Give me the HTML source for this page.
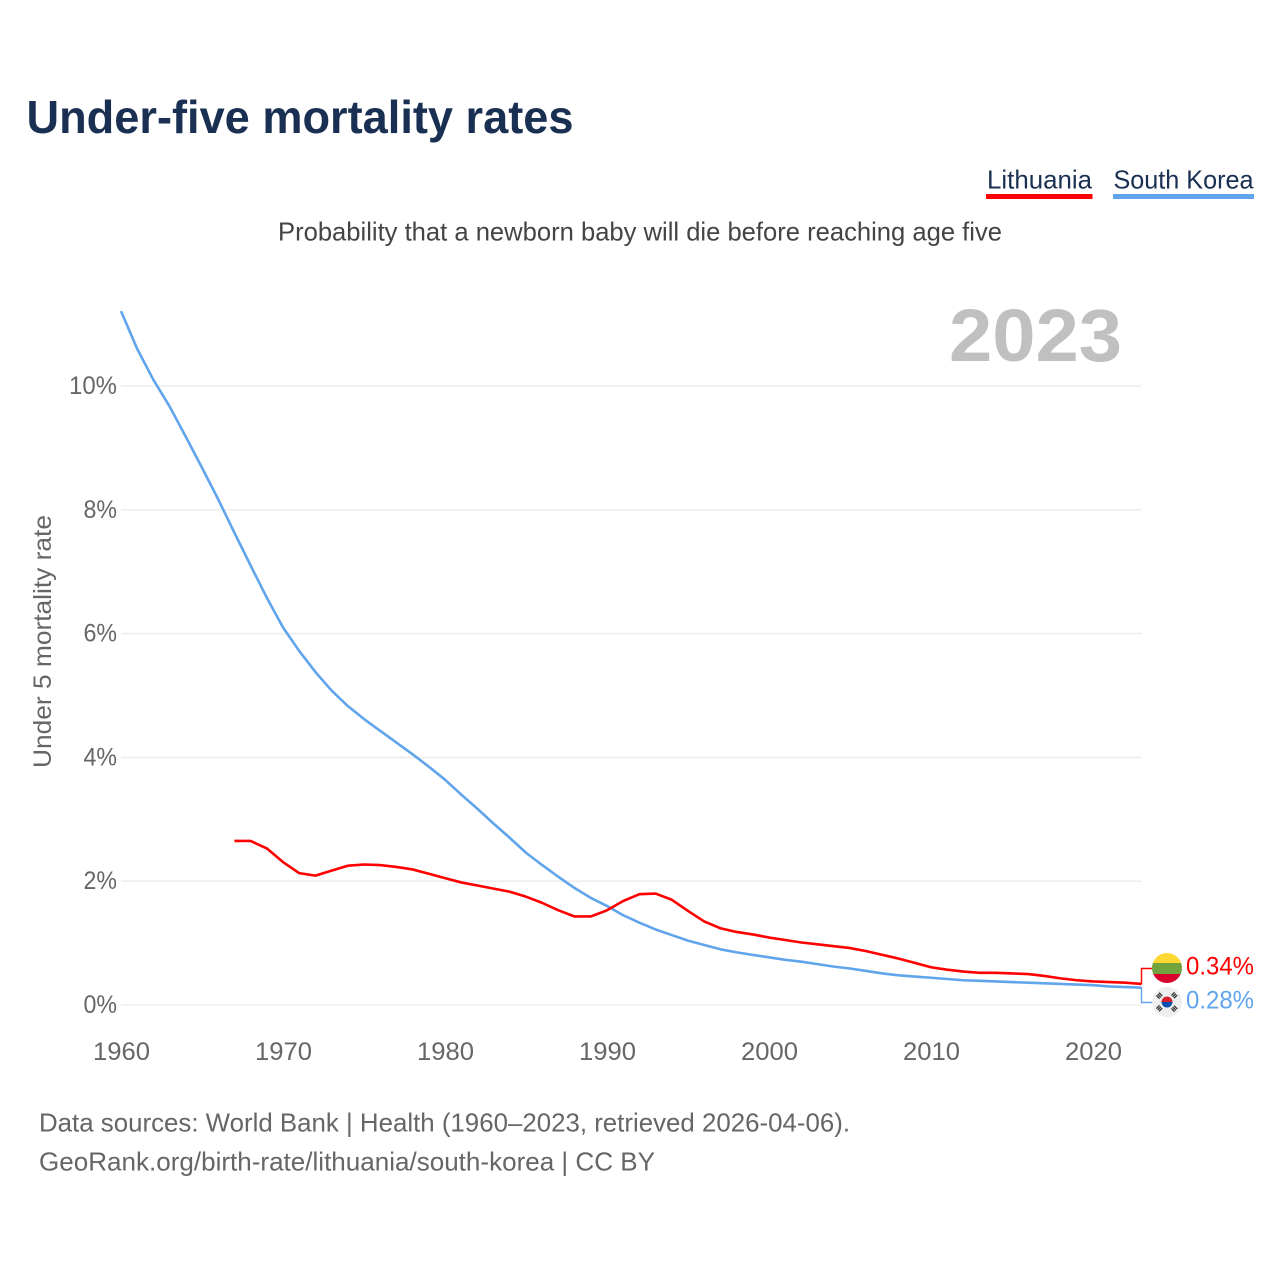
<!DOCTYPE html>
<html lang="en">
<head>
<meta charset="utf-8">
<title>Under-five mortality rates</title>
<style>
html,body{margin:0;padding:0;background:#fff;}
svg{display:block;}
text{font-family:"Liberation Sans",sans-serif;}
</style>
</head>
<body>
<svg id="chart" xmlns="http://www.w3.org/2000/svg" width="1280" height="1280" viewBox="0 0 1280 1280">
  <rect x="0" y="0" width="1280" height="1280" fill="#fff"/>
  <text x="26.500" y="133" font-size="46" font-weight="700" fill="#1a3052" textLength="547" lengthAdjust="spacingAndGlyphs">Under-five mortality rates</text>
  <g>
    <g>
      <text x="987" y="188.500" font-size="26" fill="#1a3052" textLength="105" lengthAdjust="spacingAndGlyphs">Lithuania</text>
      <rect x="986" y="194" width="106.500" height="5" fill="#ff0000"/>
    </g>
    <g>
      <text x="1113.500" y="188.500" font-size="26" fill="#1a3052" textLength="140" lengthAdjust="spacingAndGlyphs">South Korea</text>
      <rect x="1113" y="194" width="141" height="5" fill="#60a5ec"/>
    </g>
  </g>
  <text x="278" y="240.500" font-size="26" fill="#444" textLength="724" lengthAdjust="spacingAndGlyphs">Probability that a newborn baby will die before reaching age five</text>
  <text x="949" y="361" font-size="74" font-weight="700" fill="#c0c0c0" textLength="173" lengthAdjust="spacingAndGlyphs">2023</text>
  <g id="grid"></g>
  <g id="yticks"></g>
  <g id="xticks"></g>
  <text transform="translate(51,768) rotate(-90)" x="0" y="0" font-size="25" fill="#666" textLength="253" lengthAdjust="spacingAndGlyphs">Under 5 mortality rate</text>
  <g id="series"></g>
  <g id="ends"></g>
  <g>
    <clipPath id="ltclip"><circle cx="1167" cy="968" r="15"/></clipPath>
    <g clip-path="url(#ltclip)">
      <rect x="1150" y="953" width="34" height="10" fill="#fdd835"/>
      <rect x="1150" y="963" width="34" height="11" fill="#72a33f"/>
      <rect x="1150" y="974" width="34" height="10" fill="#d8002c"/>
    </g>
  </g>
  <g>
    <circle cx="1167" cy="1002" r="15" fill="#eeeeee"/>
    <path d="M1161.500 1002a5.500 5.500 0 0 1 11 0z" fill="#d8202c"/>
    <path d="M1161.500 1002a5.500 5.500 0 0 0 11 0z" fill="#0b4fb0"/>
    <g stroke="#333" stroke-width="4.500" fill="none" stroke-dasharray="1.300 .6">
      <path d="M1157.500 997.500l4 -4"/>
      <path d="M1172.500 993.500l4 4"/>
      <path d="M1157.500 1006.500l4 4"/>
      <path d="M1172.500 1010.500l4 -4"/>
    </g>
  </g>
  <text x="39" y="1131.500" font-size="26" fill="#666" textLength="811" lengthAdjust="spacingAndGlyphs">Data sources: World Bank | Health (1960–2023, retrieved 2026-04-06).</text>
  <text x="39" y="1170.500" font-size="26" fill="#666" textLength="616" lengthAdjust="spacingAndGlyphs">GeoRank.org/birth-rate/lithuania/south-korea | CC BY</text>
</svg>
<script>
const koreaStartYear = 1960;
const koreaValues = [11.21,10.60,10.10,9.67,9.18,8.68,8.17,7.63,7.10,6.58,6.10,5.72,5.38,5.08,4.83,4.62,4.43,4.24,4.05,3.85,3.64,3.40,3.17,2.93,2.70,2.46,2.26,2.07,1.89,1.73,1.60,1.45,1.33,1.22,1.13,1.04,0.97,0.90,0.85,0.81,0.77,0.73,0.70,0.66,0.62,0.59,0.55,0.51,0.48,0.46,0.44,0.42,0.40,0.39,0.38,0.37,0.36,0.35,0.34,0.33,0.32,0.30,0.29,0.28];
const lithuaniaStartYear = 1967;
const lithuaniaValues = [2.65,2.65,2.53,2.31,2.13,2.09,2.17,2.25,2.27,2.26,2.23,2.19,2.12,2.05,1.98,1.93,1.88,1.83,1.75,1.65,1.53,1.43,1.43,1.53,1.68,1.79,1.80,1.70,1.52,1.35,1.24,1.18,1.14,1.09,1.05,1.01,0.98,0.95,0.92,0.87,0.81,0.75,0.68,0.61,0.57,0.54,0.52,0.52,0.51,0.50,0.47,0.43,0.40,0.38,0.37,0.36,0.34];
const yTickValues = [0,2,4,6,8,10];
const xTickYears = [1960,1970,1980,1990,2000,2010,2020];

const SVGNS = 'http://www.w3.org/2000/svg';
function x(year){ return 121 + (year - 1960) * 16.2; }
function y(value){ return 1005 - value * 61.9; }
function make(tag, attrs, parent){
  const el = document.createElementNS(SVGNS, tag);
  for (const k in attrs) el.setAttribute(k, attrs[k]);
  parent.appendChild(el);
  return el;
}
const grid = document.getElementById('grid');
const yticks = document.getElementById('yticks');
const xticks = document.getElementById('xticks');
const seriesG = document.getElementById('series');
const ends = document.getElementById('ends');

yTickValues.forEach(function(v){
  const line = make('line', {x1:x(1960), x2:x(2023), y1:y(v), y2:y(v), stroke:'#eeeeee', 'stroke-width':1.6}, grid);
  
  
  const label = v + '%';
  const digits = String(v).length;
  const t = make('text', {x:117 - (14.5 * digits + 19), y:y(v) + 8, 'font-size':25, fill:'#666', textLength:14.5 * digits + 19, lengthAdjust:'spacingAndGlyphs'}, yticks);
  t.textContent = label;
  
  
});
xTickYears.forEach(function(yr){
  const t = make('text', {x:x(yr) - 28, y:1060, 'font-size':25, fill:'#666', textLength:57, lengthAdjust:'spacingAndGlyphs'}, xticks);
  t.textContent = String(yr);
  
  
});
function linePath(values, start){
  return values.map(function(v,i){ return (i ? 'L' : 'M') + x(start + i).toFixed(2) + ' ' + y(v).toFixed(2); }).join('');
}
const koreaLine = make('path', {d:linePath(koreaValues, koreaStartYear), fill:'none', stroke:'#60a5ec', 'stroke-width':2.6, 'stroke-linejoin':'round'}, seriesG);


const lithuaniaLine = make('path', {d:linePath(lithuaniaValues, lithuaniaStartYear), fill:'none', stroke:'#ff0000', 'stroke-width':2.6, 'stroke-linejoin':'round'}, seriesG);



const lastL = lithuaniaValues[lithuaniaValues.length - 1];
const lastK = koreaValues[koreaValues.length - 1];
const lx = x(2023);
const ltConn = make('path', {d:'M' + lx + ' ' + y(lastL) + 'L1141.500 ' + y(lastL) + 'V968.500H1152', fill:'none', stroke:'#ff0000', 'stroke-width':1.4}, ends);


const krConn = make('path', {d:'M' + lx + ' ' + y(lastK) + 'L1141.500 ' + y(lastK) + 'V1002.500H1152', fill:'none', stroke:'#60a5ec', 'stroke-width':1.4}, ends);


const ltLabel = make('text', {x:1186, y:974.500, 'font-size':25, fill:'#ff0000', textLength:68, lengthAdjust:'spacingAndGlyphs'}, ends);
ltLabel.textContent = lastL.toFixed(2) + '%';


const krLabel = make('text', {x:1186, y:1008.500, 'font-size':25, fill:'#60a5ec', textLength:68, lengthAdjust:'spacingAndGlyphs'}, ends);
krLabel.textContent = lastK.toFixed(2) + '%';


</script>
</body>
</html>
